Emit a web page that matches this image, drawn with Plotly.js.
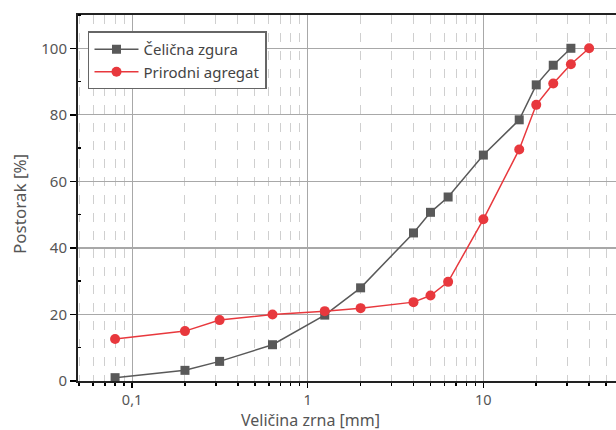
<!DOCTYPE html>
<html>
<head>
<meta charset="utf-8">
<script src="https://cdn.plot.ly/plotly-3.0.1.min.js"></script>
<style>
html,body{margin:0;padding:0;overflow:hidden;width:616px;height:430px;background:#fff;}
#chart{width:670px;height:430px;}
</style>
</head>
<body>
<div id="chart"></div>
<script>
const sieveSlag = [0.08, 0.2, 0.315, 0.63, 1.25, 2, 4, 5, 6.3, 10, 16, 20, 25, 31.5];
const passSlag  = [1.0, 3.2, 5.9, 10.9, 19.8, 28.0, 44.5, 50.7, 55.3, 67.9, 78.5, 89.0, 94.9, 100];
const sieveNat  = [0.08, 0.2, 0.315, 0.63, 1.25, 2, 4, 5, 6.3, 10, 16, 20, 25, 31.5, 40];
const passNat   = [12.6, 15.0, 18.3, 20.0, 21.0, 21.9, 23.7, 25.7, 29.8, 48.6, 69.6, 83.0, 89.4, 95.2, 100];
const xTickVals = [0.1, 1, 10];
const xTickText = ['0,1', '1', '10'];
const seriesNames = ['Čelična zgura', 'Prirodni agregat'];
const xTitle = 'Veličina zrna [mm]';
const yTitle = 'Postorak [%]';

const FONT = '"Noto Sans", "Open Sans", sans-serif';

const traces = [
  {
    x: sieveSlag, y: passSlag, name: seriesNames[0], type: 'scatter', mode: 'lines+markers',
    line: {color: '#595959', width: 1.5},
    marker: {symbol: 'square', size: 9, color: '#595959'}
  },
  {
    x: sieveNat, y: passNat, name: seriesNames[1], type: 'scatter', mode: 'lines+markers',
    line: {color: '#e8383d', width: 1.5},
    marker: {symbol: 'circle', size: 10, color: '#e8383d'}
  }
];

const layout = {
  width: 670, height: 430,
  margin: {l: 78, r: 11, t: 15, b: 49},
  paper_bgcolor: '#fff', plot_bgcolor: '#fff',
  font: {family: FONT, color: '#555', size: 15},
  separators: ', ',
  showlegend: true,
  legend: {
    x: 0.0172, y: 0.955, xanchor: 'left', yanchor: 'top',
    bgcolor: '#fff', bordercolor: '#666', borderwidth: 1.5,
    font: {family: FONT, size: 15, color: '#444'},
    itemwidth: 44,
    tracegroupgap: 0
  },
  xaxis: {
    type: 'log',
    range: [Math.log10(0.0492), 2],
    tickvals: xTickVals, ticktext: xTickText,
    ticks: 'outside', ticklen: 5, tickwidth: 1.5, tickcolor: '#000',
    showline: true, linecolor: '#222', linewidth: 2, mirror: true,
    showgrid: true, gridcolor: '#a8a8a8', gridwidth: 1.2,
    zeroline: false,
    tickfont: {size: 14.5, color: '#555'},
    minor: {
      dtick: 'D1', ticks: 'outside', ticklen: 3, tickwidth: 1.5, tickcolor: '#000',
      showgrid: true, gridcolor: '#cfcfcf', gridwidth: 1, griddash: 'dash'
    }
  },
  yaxis: {
    range: [0, 110],
    tickvals: [0, 20, 40, 60, 80, 100],
    ticks: 'outside', ticklen: 6, tickwidth: 1.5, tickcolor: '#000',
    showline: true, linecolor: '#222', linewidth: 2, mirror: true,
    showgrid: true, gridcolor: '#a8a8a8', gridwidth: 1.2,
    zeroline: false,
    tickfont: {size: 15, color: '#555'},
    minor: {
      tickvals: [10, 30, 50, 70, 90, 110], ticks: 'inside', ticklen: 3, tickwidth: 1.5, tickcolor: '#000',
      showgrid: false
    }
  },
  annotations: [
    {
      text: xTitle, xref: 'paper', yref: 'paper', x: 0.3996, y: -0.1066,
      xanchor: 'center', yanchor: 'middle', showarrow: false,
      font: {family: FONT, size: 16, color: '#555'}
    },
    {
      text: yTitle, xref: 'paper', yref: 'paper', x: -0.1016, y: 0.4836,
      xanchor: 'center', yanchor: 'middle', showarrow: false, textangle: -90,
      font: {family: FONT, size: 17, color: '#555'}
    }
  ]
};

Plotly.newPlot('chart', traces, layout, {displayModeBar: false, staticPlot: true});
</script>
</body>
</html>
